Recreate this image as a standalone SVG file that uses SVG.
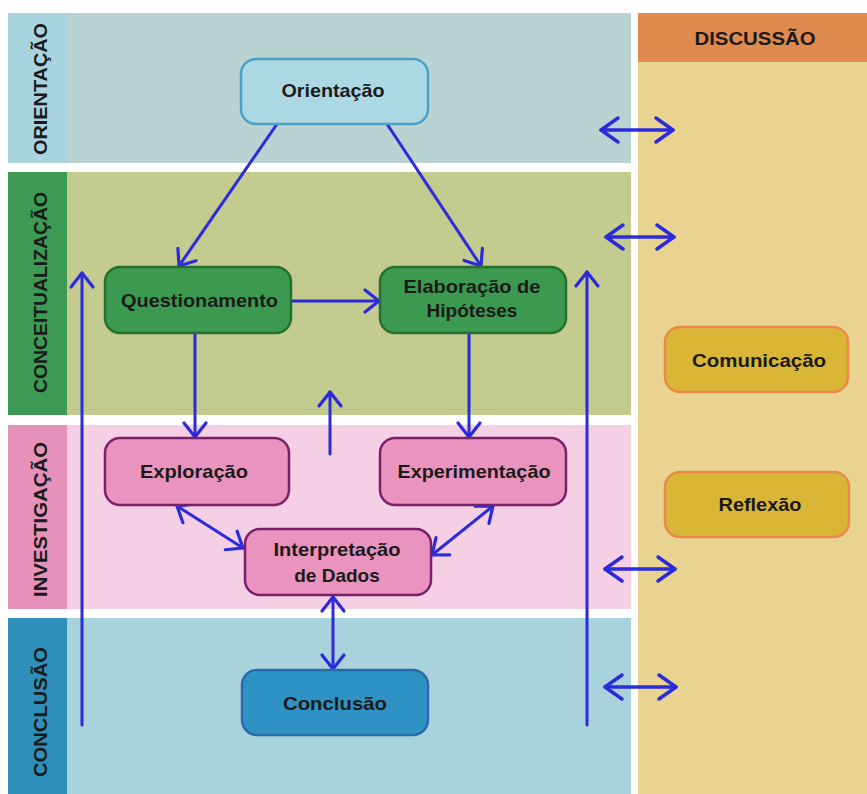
<svg xmlns="http://www.w3.org/2000/svg" width="867" height="794" viewBox="0 0 867 794">
<defs>
<marker id="ah" markerUnits="userSpaceOnUse" markerWidth="30" markerHeight="30" viewBox="-20 -15 25 30" refX="0" refY="0" orient="auto-start-reverse">
<path d="M-14,-11 L0,0 L-14,11" fill="none" stroke="#2b2bdb" stroke-width="3.2" stroke-linecap="round" stroke-linejoin="round"/>
</marker>
<marker id="ahb" markerUnits="userSpaceOnUse" markerWidth="30" markerHeight="30" viewBox="-20 -15 25 30" refX="0" refY="0" orient="auto-start-reverse">
<path d="M-17,-12 L0,0 L-17,12" fill="none" stroke="#2b2bdb" stroke-width="3.5" stroke-linecap="round" stroke-linejoin="round"/>
</marker>
<style>
.t{font-family:"Liberation Sans",Arial,sans-serif;font-weight:bold;font-size:19px;fill:#1a1a1a;text-anchor:middle}
.c{fill:none;stroke:#2b2bdb;stroke-width:3;stroke-linecap:round}
.one{marker-end:url(#ah)}
.two{marker-end:url(#ah);marker-start:url(#ah)}
.dbl{marker-end:url(#ahb);marker-start:url(#ahb);stroke-width:3.5}
.n rect{stroke-width:2.5}
</style>
</defs>
<rect width="867" height="794" fill="#ffffff"/>
<g id="bands">
<rect x="8" y="13" width="623" height="150" fill="#b9d3d2"/>
<rect x="8" y="13" width="59" height="150" fill="#a8d4e0"/>
<rect x="8" y="172" width="623" height="243" fill="#c3cb8f"/>
<rect x="8" y="172" width="59" height="243" fill="#3d9a55"/>
<rect x="8" y="425" width="623" height="184" fill="#f5cfe3"/>
<rect x="8" y="425" width="59" height="184" fill="#e691ba"/>
<rect x="8" y="618" width="623" height="176" fill="#a9d3dc"/>
<rect x="8" y="618" width="59" height="176" fill="#2d8fba"/>
<rect x="638" y="13" width="229" height="781" fill="#e8d391"/>
<rect x="638" y="13" width="229" height="49" fill="#df8a4e"/>
<text class="t" x="755" y="45" textLength="121" lengthAdjust="spacingAndGlyphs">DISCUSSÃO</text>
<text class="t" transform="translate(47,89) rotate(-90)" textLength="132" lengthAdjust="spacingAndGlyphs">ORIENTAÇÃO</text>
<text class="t" transform="translate(47,292.5) rotate(-90)" textLength="201" lengthAdjust="spacingAndGlyphs">CONCEITUALIZAÇÃO</text>
<text class="t" transform="translate(47,519.5) rotate(-90)" textLength="155" lengthAdjust="spacingAndGlyphs">INVESTIGAÇÃO</text>
<text class="t" transform="translate(47,712) rotate(-90)" textLength="130" lengthAdjust="spacingAndGlyphs">CONCLUSÃO</text>
</g>
<g id="connectors">
<line class="c one" x1="277" y1="124" x2="179" y2="266"/>
<line class="c one" x1="387" y1="124" x2="481" y2="266"/>
<line class="c one" x1="291" y1="301" x2="379" y2="301"/>
<line class="c one" x1="195" y1="333" x2="195" y2="437"/>
<line class="c one" x1="469" y1="333" x2="469" y2="437"/>
<line class="c one" x1="330" y1="454" x2="330" y2="392"/>
<line class="c one" x1="82" y1="725" x2="82" y2="273"/>
<line class="c one" x1="587" y1="725" x2="587" y2="272"/>
<line class="c two" x1="177" y1="506" x2="243" y2="548"/>
<line class="c two" x1="493" y1="506" x2="432" y2="555"/>
<line class="c two" x1="333" y1="597" x2="333" y2="669"/>
<line class="c dbl" x1="601" y1="130" x2="673" y2="130"/>
<line class="c dbl" x1="606" y1="237" x2="674" y2="237"/>
<line class="c dbl" x1="605" y1="569" x2="675" y2="569"/>
<line class="c dbl" x1="605" y1="687" x2="676" y2="687"/>
</g>
<g id="orientacao" class="n">
<rect x="241" y="59" width="187" height="65" rx="15" fill="#acd8e4" stroke="#4aa0c8"/>
<text class="t" x="333" y="97" textLength="103" lengthAdjust="spacingAndGlyphs">Orientação</text>
</g>
<g id="questionamento" class="n">
<rect x="105" y="267" width="186" height="66" rx="15" fill="#3c9a50" stroke="#276f31"/>
<text class="t" x="199.5" y="307" textLength="157" lengthAdjust="spacingAndGlyphs">Questionamento</text>
</g>
<g id="elaboracao" class="n">
<rect x="380" y="267" width="186" height="66" rx="15" fill="#3c9a50" stroke="#276f31"/>
<text class="t" x="472" y="293" textLength="137" lengthAdjust="spacingAndGlyphs">Elaboração de</text>
<text class="t" x="472" y="317">Hipóteses</text>
</g>
<g id="exploracao" class="n">
<rect x="105" y="438" width="184" height="67" rx="15" fill="#ea93bf" stroke="#7a1f6a"/>
<text class="t" x="194" y="478" textLength="108" lengthAdjust="spacingAndGlyphs">Exploração</text>
</g>
<g id="experimentacao" class="n">
<rect x="380" y="438" width="186" height="67" rx="15" fill="#ea93bf" stroke="#7a1f6a"/>
<text class="t" x="474" y="478" textLength="153" lengthAdjust="spacingAndGlyphs">Experimentação</text>
</g>
<g id="interpretacao" class="n">
<rect x="245" y="529" width="186" height="66" rx="15" fill="#ea93bf" stroke="#7a1f6a"/>
<text class="t" x="337" y="556" textLength="127" lengthAdjust="spacingAndGlyphs">Interpretação</text>
<text class="t" x="337" y="582">de Dados</text>
</g>
<g id="conclusao" class="n">
<rect x="242" y="670" width="186" height="65" rx="15" fill="#2e92c4" stroke="#2c6aa8"/>
<text class="t" x="335" y="710" textLength="104" lengthAdjust="spacingAndGlyphs">Conclusão</text>
</g>
<g id="comunicacao" class="n">
<rect x="665" y="327" width="183" height="65" rx="15" fill="#d9b636" stroke="#e88b4a"/>
<text class="t" x="759" y="367" textLength="134" lengthAdjust="spacingAndGlyphs">Comunicação</text>
</g>
<g id="reflexao" class="n">
<rect x="665" y="472" width="184" height="65" rx="15" fill="#d9b636" stroke="#e88b4a"/>
<text class="t" x="760" y="511" textLength="83" lengthAdjust="spacingAndGlyphs">Reflexão</text>
</g>
</svg>
